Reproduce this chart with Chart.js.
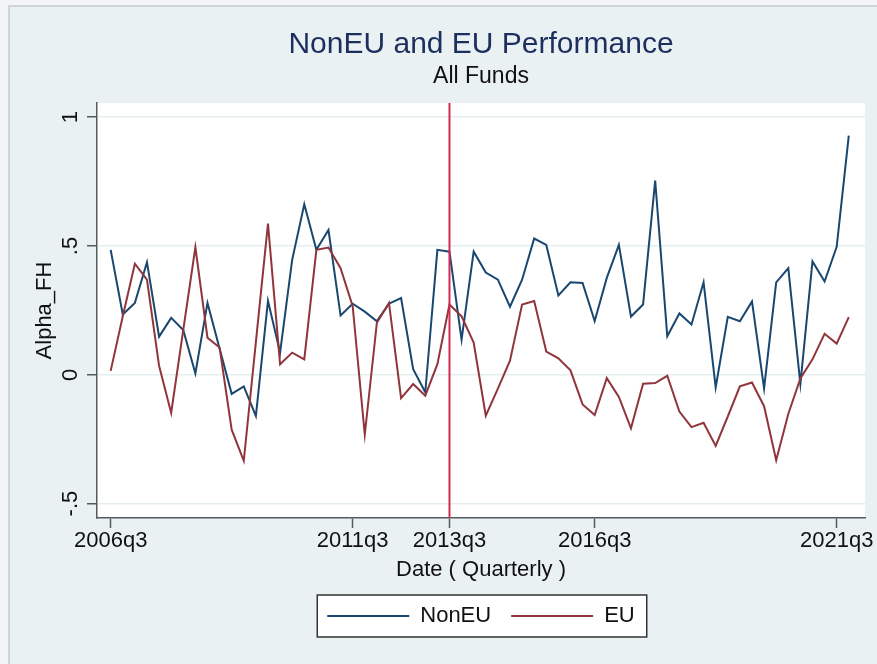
<!DOCTYPE html>
<html>
<head>
<meta charset="utf-8">
<script src="https://cdn.jsdelivr.net/npm/chart.js@4.4.1/dist/chart.umd.min.js"></script>
<style>
  html, body { margin: 0; padding: 0; background: #f3f4f5; overflow: hidden; }
  #frame {
    position: absolute; left: 8px; top: 5px; width: 869px; height: 659px;
    box-sizing: border-box; background: #eaf1f3;
    border-left: 2px solid #d0d5d8; border-top: 2px solid #d0d5d8;
  }
  canvas { display: block; }
</style>
</head>
<body>
<div id="frame"><canvas id="perfChart" width="867" height="657"></canvas></div>
<script>
// quarters 2006q3 .. 2021q4
const quarters = [];
for (let y = 2006, q = 3; quarters.length < 62; q++) {
    if (q > 4) { q = 1; y++; }
    quarters.push(y + 'q' + q);
}

// Alpha_FH
const nonEU = [
    0.485, 0.234, 0.279, 0.437, 0.148, 0.221, 0.174, 0.005, 0.279, 0.102,
    -0.074, -0.045, -0.160, 0.287, 0.086, 0.446, 0.662, 0.485, 0.562, 0.230,
    0.276, 0.245, 0.208, 0.276, 0.298, 0.022, -0.068, 0.485, 0.478, 0.136,
    0.478, 0.397, 0.369, 0.264, 0.369, 0.529, 0.504, 0.308, 0.359, 0.356,
    0.209, 0.376, 0.504, 0.226, 0.273, 0.754, 0.150, 0.238, 0.195, 0.359,
    -0.049, 0.225, 0.208, 0.285, -0.053, 0.359, 0.414, -0.036, 0.440, 0.362,
    0.497, 0.928
];
const eu = [
    0.015, 0.227, 0.431, 0.369, 0.035, -0.148, 0.174, 0.495, 0.144, 0.106,
    -0.213, -0.334, 0.127, 0.587, 0.041, 0.086, 0.060, 0.485, 0.494, 0.414,
    0.266, -0.232, 0.202, 0.279, -0.091, -0.036, -0.081, 0.041, 0.273, 0.227,
    0.125, -0.159, -0.054, 0.055, 0.273, 0.286, 0.090, 0.064, 0.017, -0.115,
    -0.156, -0.013, -0.086, -0.208, -0.035, -0.032, -0.004, -0.143, -0.203, -0.186,
    -0.276, -0.162, -0.045, -0.030, -0.122, -0.332, -0.152, -0.014, 0.060, 0.159,
    0.121, 0.224
];

const xTickLabels = ['2006q3', '2011q3', '2013q3', '2016q3', '2021q3'];
const yTickValues = [-0.5, 0, 0.5, 1];
const yTickLabels = ['-.5', '0', '.5', '1'];
const markerQuarter = '2013q3';

const FONT = '"Liberation Sans", Arial, sans-serif';
const AXIS = '#555a5e';

// white plot region
const plotBg = {
    id: 'plotBg',
    beforeDraw(chart) {
        const a = chart.chartArea, ctx = chart.ctx;
        ctx.save();
        ctx.fillStyle = '#ffffff';
        ctx.fillRect(a.left, a.top, a.right - a.left, a.bottom - a.top);
        ctx.restore();
    }
};

// vertical line at 2013q3 and rotated y tick labels
const extras = {
    id: 'extras',
    afterDatasetsDraw(chart) {
        const ctx = chart.ctx, a = chart.chartArea;
        const x = chart.scales.x.getPixelForValue(quarters.indexOf(markerQuarter));
        ctx.save();
        ctx.strokeStyle = '#d42a52';
        ctx.lineWidth = 2;
        ctx.beginPath();
        ctx.moveTo(x, a.top);
        ctx.lineTo(x, a.bottom);
        ctx.stroke();
        ctx.restore();
    },
    afterDraw(chart) {
        const ctx = chart.ctx, a = chart.chartArea, ys = chart.scales.y;
        ctx.save();
        ctx.fillStyle = '#111';
        ctx.font = '22px ' + FONT;
        ctx.textAlign = 'center';
        ctx.textBaseline = 'middle';
        yTickValues.forEach((v, i) => {
            ctx.save();
            ctx.translate(a.left - 26, ys.getPixelForValue(v));
            ctx.rotate(-Math.PI / 2);
            ctx.fillText(yTickLabels[i], 0, 0);
            ctx.restore();
        });
        // legend frame
        const boxes = chart.legend.legendHitBoxes;
        if (boxes && boxes.length) {
            const first = boxes[0], last = boxes[boxes.length - 1];
            ctx.fillStyle = '#ffffff';
            ctx.strokeStyle = '#333';
            ctx.lineWidth = 1.5;
            ctx.strokeRect(first.left - 10, first.top - 10,
                last.left + last.width - first.left + 22, first.height + 20);
        }
        ctx.restore();
    }
};

// legend background drawn before legend text
const legendBg = {
    id: 'legendBg',
    beforeDraw(chart) {
        const boxes = chart.legend && chart.legend.legendHitBoxes;
        if (!boxes || !boxes.length) return;
        const first = boxes[0], last = boxes[boxes.length - 1];
        const ctx = chart.ctx;
        ctx.save();
        ctx.fillStyle = '#ffffff';
        ctx.fillRect(first.left - 10, first.top - 10,
            last.left + last.width - first.left + 22, first.height + 20);
        ctx.restore();
    }
};

const ctx = document.getElementById('perfChart').getContext('2d');
new Chart(ctx, {
    type: 'line',
    data: {
        datasets: [
            {
                label: 'NonEU',
                data: nonEU.map((v, i) => ({ x: i, y: v })),
                borderColor: '#1a476f',
                backgroundColor: '#1a476f',
                borderWidth: 2,
                pointRadius: 0,
                tension: 0,
                order: 2
            },
            {
                label: 'EU',
                data: eu.map((v, i) => ({ x: i, y: v })),
                borderColor: '#90353b',
                backgroundColor: '#90353b',
                borderWidth: 2,
                pointRadius: 0,
                tension: 0,
                order: 1
            }
        ]
    },
    options: {
        responsive: false,
        animation: false,
        layout: { padding: { left: 4, right: 12, top: 0, bottom: 27 } },
        scales: {
            x: {
                type: 'linear',
                min: -1.13,
                max: 62.34,
                afterBuildTicks: (scale) => {
                    scale.ticks = xTickLabels.map(l => ({ value: quarters.indexOf(l) }));
                },
                ticks: {
                    autoSkip: false,
                    maxRotation: 0,
                    padding: 2,
                    color: '#111',
                    font: { family: FONT, size: 22, lineHeight: 1 },
                    callback: (v) => quarters[v]
                },
                grid: {
                    drawOnChartArea: false,
                    drawTicks: true,
                    tickLength: 10,
                    tickColor: AXIS,
                    tickWidth: 1.5
                },
                border: { color: AXIS, width: 1.5 },
                title: {
                    display: true,
                    text: 'Date ( Quarterly )',
                    color: '#111',
                    font: { family: FONT, size: 22, lineHeight: 1 },
                    padding: { top: 5, bottom: 4 }
                }
            },
            y: {
                min: -0.556,
                max: 1.055,
                afterBuildTicks: (scale) => {
                    scale.ticks = yTickValues.map(v => ({ value: v }));
                },
                ticks: { display: false },
                grid: {
                    color: '#e4edf0',
                    lineWidth: 1.5,
                    drawTicks: true,
                    tickLength: 10,
                    tickColor: AXIS,
                    tickWidth: 1.5
                },
                border: { color: AXIS, width: 1.5 },
                title: {
                    display: true,
                    text: 'Alpha_FH',
                    color: '#111',
                    font: { family: FONT, size: 22, lineHeight: 1 },
                    padding: { top: 20, bottom: 31 }
                }
            }
        },
        plugins: {
            title: {
                display: true,
                text: 'NonEU and EU Performance',
                color: '#1c2f5e',
                fullSize: false,
                font: { family: FONT, size: 30, weight: 'normal', lineHeight: 1 },
                padding: { top: 23, bottom: 0 }
            },
            subtitle: {
                display: true,
                text: 'All Funds',
                color: '#111',
                fullSize: false,
                font: { family: FONT, size: 23, weight: 'normal', lineHeight: 1 },
                padding: { top: 5, bottom: 15 }
            },
            legend: {
                position: 'bottom',
                fullSize: false,
                labels: {
                    usePointStyle: true,
                    pointStyle: 'line',
                    pointStyleWidth: 82,
                    padding: 20,
                    color: '#111',
                    font: { family: FONT, size: 22, lineHeight: 1 },
                    sort: (a, b) => a.datasetIndex - b.datasetIndex
                }
            },
            tooltip: { enabled: false }
        }
    },
    plugins: [plotBg, legendBg, extras]
});
</script>
</body>
</html>
